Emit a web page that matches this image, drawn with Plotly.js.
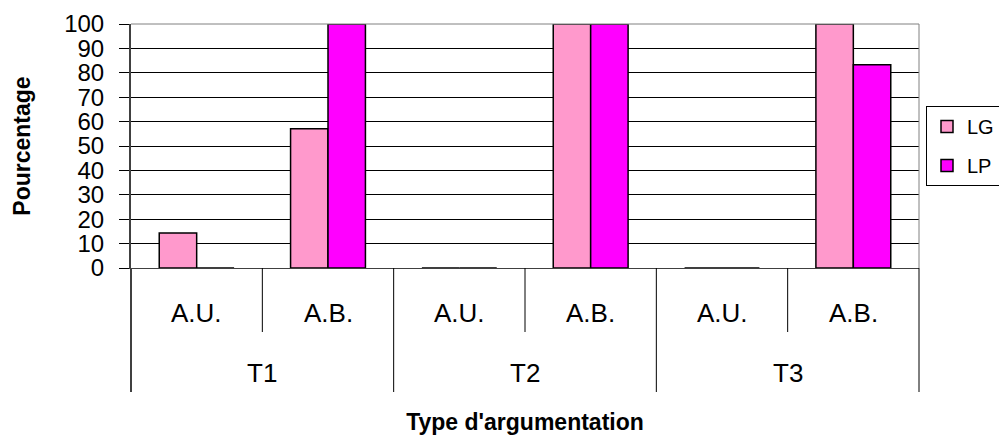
<!DOCTYPE html>
<html>
<head>
<meta charset="utf-8">
<script src="https://cdn.plot.ly/plotly-3.0.1.min.js"></script>
<style>html,body{margin:0;padding:0;background:#fff;overflow:hidden}</style>
</head>
<body>
<div id="chart" style="width:1060px;height:442px"></div>
<script>
const groups = ['T1', 'T1', 'T2', 'T2', 'T3', 'T3'];
const subcats = ['A.U.', 'A.B.', 'A.U.', 'A.B.', 'A.U.', 'A.B.'];
const seriesNames = ['LG', 'LP'];
const lgValues = [14.3, 57.1, 0, 100, 0, 100];
const lpValues = [0, 100, 0, 100, 0, 83.3];
const yTicks = [0, 10, 20, 30, 40, 50, 60, 70, 80, 90, 100];

const colors = ['#FF99CC', '#FF00FF'];
const font = 'Liberation Sans, Arial, sans-serif';

const traces = [lgValues, lpValues].map((vals, i) => ({
  type: 'bar',
  name: seriesNames[i],
  x: [groups, subcats],
  y: vals,
  legendgroup: 'g' + i,
  marker: {color: colors[i], line: {color: '#000', width: 1.5}},
  hoverinfo: 'x+y'
}));

// category label annotations and dividers, built from the arrays
const n = subcats.length;
const annotations = [];
const shapes = [];
const subY = (268 - 313) / 244, grpY = (268 - 373) / 244;
const subDivY = (268 - 332) / 244, grpDivY = (268 - 392) / 244;
subcats.forEach((s, i) => {
  annotations.push({xref: 'paper', yref: 'paper', x: (i + 0.5) / n, y: subY,
    text: s, showarrow: false, font: {size: 26, family: font, color: '#000'}, xanchor: 'center', yanchor: 'middle'});
});
let start = 0;
for (let i = 1; i <= n; i++) {
  if (i === n || groups[i] !== groups[start]) {
    annotations.push({xref: 'paper', yref: 'paper', x: (start + i) / 2 / n, y: grpY,
      text: groups[start], showarrow: false, font: {size: 26, family: font, color: '#000'}, xanchor: 'center', yanchor: 'middle'});
    shapes.push({type: 'line', xref: 'paper', yref: 'paper', x0: i / n, x1: i / n, y0: 0, y1: grpDivY, line: {color: '#000', width: 1}});
    start = i;
  } else {
    shapes.push({type: 'line', xref: 'paper', yref: 'paper', x0: i / n, x1: i / n, y0: 0, y1: subDivY, line: {color: '#000', width: 1}});
  }
}
shapes.push({type: 'line', xref: 'paper', yref: 'paper', x0: 0, x1: 0, y0: 0, y1: grpDivY, line: {color: '#404040', width: 2}});
shapes.push({type: 'line', xref: 'paper', yref: 'paper', x0: 1, x1: 1, y0: 0, y1: 1, line: {color: '#808080', width: 1}});
shapes.push({type: 'line', xref: 'paper', yref: 'paper', x0: 0, x1: 1, y0: 1, y1: 1, line: {color: '#808080', width: 1}});

const layout = {
  width: 1060, height: 442,
  margin: {l: 131, r: 141, t: 24, b: 174},
  paper_bgcolor: '#fff', plot_bgcolor: '#fff',
  barmode: 'group', bargap: 0.43, bargroupgap: 0,
  font: {family: font, color: '#000'},
  xaxis: {
    type: 'multicategory',
    showline: true, linecolor: '#404040', linewidth: 1, mirror: false,
    showdividers: false, showticklabels: false, ticks: '',
    title: {text: "Type d'argumentation", font: {size: 23, family: font, weight: 'bold'}, standoff: 145},
    automargin: false, zeroline: false
  },
  yaxis: {
    range: [0, 100], tickvals: yTicks, ticktext: yTicks.map(String),
    showgrid: true, gridcolor: '#000', gridwidth: 1,
    showline: true, linecolor: '#404040', linewidth: 2, mirror: false,
    ticks: 'outside', ticklen: 10, tickcolor: '#000',
    tickfont: {size: 24, family: font}, ticklabelstandoff: 10,
    title: {text: 'Pourcentage', font: {size: 23, family: font, weight: 'bold'}, standoff: 27},
    automargin: false, zeroline: false
  },
  showlegend: true,
  legend: {
    x: (926 - 131) / 788, xref: 'paper', xanchor: 'left', y: 0.664, yanchor: 'top',
    bordercolor: '#000', borderwidth: 1, bgcolor: '#fff',
    font: {size: 20, family: font},
    traceorder: 'grouped', tracegroupgap: 10
  },
  annotations: annotations,
  shapes: shapes
};

Plotly.newPlot('chart', traces, layout, {displayModeBar: false, staticPlot: true});
</script>
</body>
</html>
